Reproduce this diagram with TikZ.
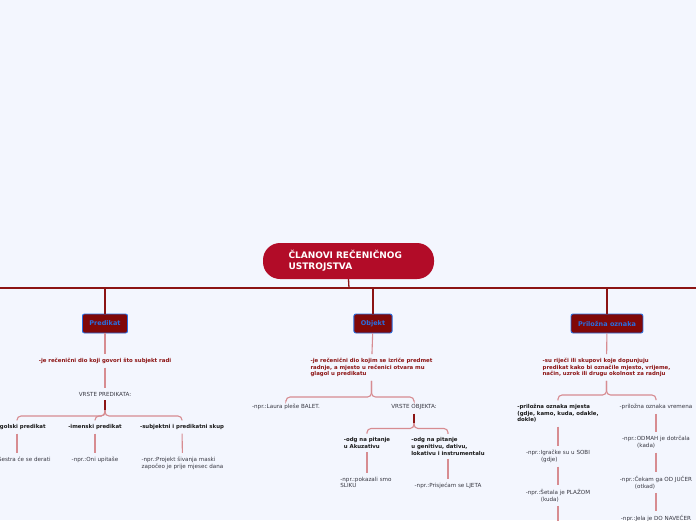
\documentclass[tikz,border=0pt]{standalone}
\usepackage{fontspec}
\setmainfont{DejaVu Sans}
\usetikzlibrary{positioning, calc}
\definecolor{bgcol}{RGB}{243,246,254}
\definecolor{titlecol}{RGB}{178,12,40}
\definecolor{boxcol}{RGB}{128,8,8}
\definecolor{bluecol}{RGB}{40,110,225}
\definecolor{maincol}{RGB}{140,20,20}
\definecolor{pinkcol}{RGB}{215,140,145}
\definecolor{graycol}{RGB}{55,55,65}
\tikzset{
    crtitle/.style={fill=titlecol, text=white, rounded corners=17pt, minimum width=171pt, minimum height=36pt,
        text width=120pt, align=left, font=\fontsize{9}{11}\selectfont\bfseries},
    crbox/.style={draw=bluecol, fill=boxcol, text=bluecol, line width=0.9pt, rounded corners=2pt,
        minimum height=19pt, inner xsep=7pt, font=\fontsize{6.5}{7}\selectfont\bfseries},
    crdesc/.style={text=maincol, align=left, inner sep=1pt, outer sep=3pt, font=\fontsize{5.4}{6.6}\selectfont\bfseries},
    crbold/.style={text=black!90, align=left, inner sep=1pt, outer sep=3pt, font=\fontsize{5.4}{6.6}\selectfont\bfseries},
    crtext/.style={text=graycol, align=left, inner sep=1pt, outer sep=3pt, font=\fontsize{5.6}{6.8}\selectfont},
    crmain/.style={draw=maincol, line width=1.3pt},
    crlink/.style={draw=pinkcol, line width=1.1pt},
    crfork/.style={crlink, rounded corners=4pt}
}

\begin{document}
\begin{tikzpicture}[x=1pt, y=-1pt]
  \path[use as bounding box, fill=bgcol] (0,0) rectangle (696,520);
  \clip (0,0) rectangle (696,520);

  % title and main bar
  \node[crtitle] (title) at (348.5,261) {ČLANOVI REČENIČNOG\\USTROJSTVA};
  \coordinate (hub) at (349,288);
  \coordinate (lend) at (0,288);
  \coordinate (rend) at (696,288);
  \draw[crmain] (lend) -- (rend);
  \draw[crmain] (title.south) -- (hub);

  \node[crbox] (pred) at (105,323.5) {Predikat};
  \node[crbox] (obj) at (373,323.5) {Objekt};
  \node[crbox] (pozn) at (607,323.5) {Priložna oznaka};
  \foreach \b in {pred,obj,pozn} {
      \draw[crmain] (\b.north |- lend) -- (\b.north);
  }

  % predikat
  \node[crdesc] (pdesc) at (105,361) {-je rečenični dio koji govori što subjekt radi};
  \node[crtext] (pvrste) at (105,394) {VRSTE PREDIKATA:};
  \coordinate (pfork) at (105,410);
  \coordinate (pbar) at (0,416);
  \node[crbold] (pglag) at (17,427) {-glagolski predikat};
  \node[crbold] (pimen) at (95,427) {-imenski predikat};
  \node[crbold] (psubj) at (182,427) {-subjektni i predikatni skup};
  \node[crtext] (pex1) at (17,460) {-npr.:Sestra će se derati};
  \node[crtext] (pex2) at (95,460) {-npr.:Oni upitaše};
  \node[crtext] (pex3) at (182.5,463) {-npr.:Projekt šivanja maski\\započeo je prije mjesec dana};
  \draw[crlink] (pred) -- (pdesc);
  \draw[crlink] (pdesc) -- (pvrste);
  \draw[crmain] (pvrste) -- (pfork);
  \foreach \c in {pglag,pimen,psubj} {
      \draw[crfork] (pfork) |- (\c.north |- pbar) -- (\c.north);
  }
  \draw[crlink] (pglag) -- (pex1);
  \draw[crlink] (pimen) -- (pex2);
  \draw[crlink] (psubj) -- (pex3);

  % objekt
  \node[crdesc] (odesc) at (371.5,367.5) {-je rečenični dio kojim se izriče predmet\\radnje, a mjesto u rečenici otvara mu\\glagol u predikatu};
  \coordinate (obar) at (0,397);
  \node[crtext] (oex) at (286,407) {-npr.:Laura pleše BALET.};
  \node[crtext] (ovrste) at (414,407) {VRSTE OBJEKTA:};
  \foreach \c in {oex,ovrste} {
      \draw[crfork] (odesc.south) |- (\c.north |- obar) -- (\c.north);
  }
  \draw[crlink] (obj) -- (odesc);
  \coordinate (ofork) at (414,423);
  \coordinate (obar2) at (0,428.5);
  \node[crbold] (oakuz) at (367,443) {-odg na pitanje\\u Akuzativu};
  \node[crbold] (ogen) at (448,446.5) {-odg na pitanje\\u genitivu, dativu,\\lokativu i instrumentalu};
  \draw[crmain] (ovrste) -- (ofork);
  \foreach \c in {oakuz,ogen} {
      \draw[crfork] (ofork) |- (\c.north |- obar2) -- (\c.north);
  }
  \node[crtext] (oex2) at (366,482.5) {-npr.:pokazali smo\\SLIKU};
  \node[crtext] (oex3) at (448,486) {-npr.:Prisjećam se LJETA};
  \draw[crlink] (oakuz) -- (oakuz |- oex2.north);
  \draw[crlink] (ogen) -- (oex3);

  % prilozna oznaka
  \node[crdesc] (pozdesc) at (606.5,367.5) {-su riječi ili skupovi koje dopunjuju\\predikat kako bi označile mjesto, vrijeme,\\način, uzrok ili drugu okolnost za radnju};
  \coordinate (pozbar) at (0,395);
  \node[crbold] (pmjesto) at (558,413.5) {-priložna oznaka mjesta\\(gdje, kamo, kuda, odakle,\\dokle)};
  \node[crtext] (pvrijeme) at (656,407) {-priložna oznaka vremena};
  \draw[crlink] (pozn) -- (pozdesc);
  \foreach \c in {pmjesto,pvrijeme} {
      \draw[crfork] (pozdesc.south) |- (\c.north |- pozbar) -- (\c.north);
  }
  \node[crtext] (pm1) at (558,456.5) {-npr.:Igračke su u SOBI\\\hspace*{15pt}(gdje)};
  \node[crtext] (pm2) at (558,495.5) {-npr.:Šetala je PLAŽOM\\\hspace*{15pt}(kuda)};
  \coordinate (pmend) at (558,524);
  \node[crtext] (pv1) at (656,442.5) {-npr.:ODMAH je dotrčala\\\hspace*{15pt}(kada)};
  \node[crtext] (pv2) at (656,482.5) {-npr.:Čekam ga OD JUČER\\\hspace*{15pt}(otkad)};
  \node[crtext] (pv3) at (656,518.5) {-npr.:Jela je DO NAVEČER};
  \draw[crlink] (pmjesto) -- (pm1);
  \draw[crlink] (pm1) -- (pm2);
  \draw[crlink] (pm2) -- (pmend);
  \draw[crlink] (pvrijeme) -- (pv1);
  \draw[crlink] (pv1) -- (pv2);
  \draw[crlink] (pv2) -- (pv3);
\end{tikzpicture}
\end{document}
